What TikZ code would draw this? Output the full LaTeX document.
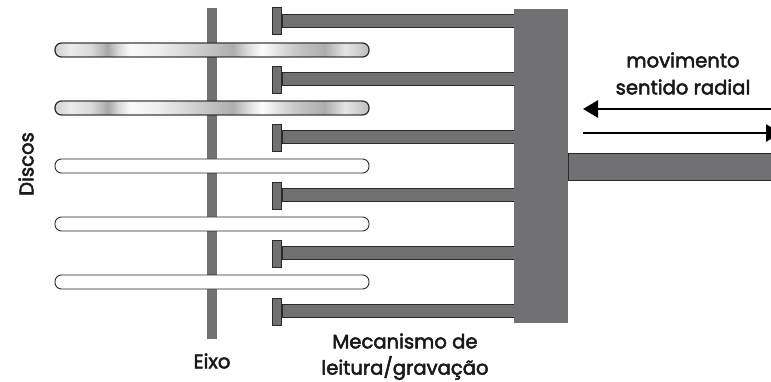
\documentclass[tikz,border=0pt]{standalone}
\usepackage{fontspec}
\setmainfont[RawFeature={embolden=2.6}]{Poppins}
\usetikzlibrary{arrows.meta}
\definecolor{metal}{HTML}{717072}
\definecolor{edgeink}{HTML}{2B2829}
\pgfdeclarehorizontalshading{discshade}{100bp}{
  color(0bp)=(black!18);
  color(25bp)=(black!18);
  color(27.4bp)=(black!8);
  color(30.6bp)=(black!14);
  color(33.4bp)=(black!34);
  color(35bp)=(black!16);
  color(36.9bp)=(black!2);
  color(41.7bp)=(black!7);
  color(48.9bp)=(black!22);
  color(53.3bp)=(black!32);
  color(55.7bp)=(black!14);
  color(58bp)=(black!1);
  color(61.6bp)=(black!16);
  color(64bp)=(black!24);
  color(68bp)=(black!32);
  color(71.2bp)=(black!10);
  color(75bp)=(black!26);
  color(100bp)=(black!26)
}
\tikzset{
  metalbar/.style={fill=metal,draw=none},
  armbar/.style={fill=metal,draw=edgeink,line width=0.7},
  headbar/.style={fill=metal,draw=edgeink,line width=0.8},
  disc/.style={draw=edgeink,line width=0.9,rounded corners=6.5},
  shaded disc/.style={disc,shading=discshade},
  plain disc/.style={disc,fill=white},
  motion/.style={draw=black,line width=2.7,-{Triangle[length=15,width=17]}},
  lab/.style={font=\fontsize{19.6}{22}\selectfont,text=black!90,inner sep=0,align=center}
}
\begin{document}
\begin{tikzpicture}[x=1pt,y=-1pt]
\useasboundingbox (0,0) rectangle (771,382);
% spindle
\fill[metalbar] (207,8) rectangle (217,339);
% discs
\foreach \t in {43,101}{
  \path[shaded disc] (55,\t) rectangle (369,\t+14);
  \draw[disc] (55,\t) rectangle (369,\t+14);
}
\foreach \t in {159,217,275}{
  \path[plain disc] (55,\t) rectangle (369,\t+14);
}
% arms and heads
\foreach \a/\h in {14/7,72/66,130/124,188/182,246/240,304/298}{
  \path[armbar] (282,\a) rectangle (516,\a+13.5);
  \path[headbar] (272.5,\h) rectangle (281.5,\h+27);
}
% carriage
\fill[metalbar] (514,9) rectangle (568,323);
\path[armbar] (568,153) rectangle (773,180);
% arrows
\coordinate (rightA) at (773,109);
\coordinate (leftA) at (583,109);
\coordinate (leftB) at (583,133);
\coordinate (rightB) at (781,133);
\draw[motion] (rightA) -- (leftA);
\draw[motion] (leftB) -- (rightB);
% labels
\node[lab] (mov) at (683,60) {movimento};
\node[lab] (rad) at (683,87) {sentido radial};
\node[lab] (eixo) at (212,361) {Eixo};
\node[lab] (mec) at (405,341) {Mecanismo de};
\node[lab] (lei) at (405,368) {leitura/gravação};
\node[lab,rotate=90] (dis) at (26,164) {Discos};
\end{tikzpicture}
\end{document}
